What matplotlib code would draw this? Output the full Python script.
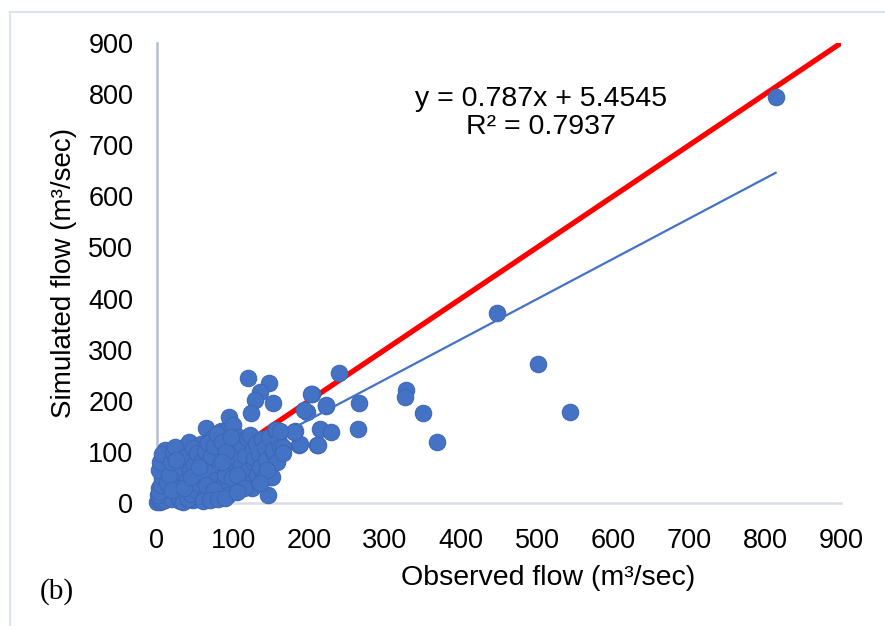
import numpy as np
import matplotlib.pyplot as plt
from matplotlib.lines import Line2D

plt.rcParams['font.family'] = ['Liberation Sans', 'DejaVu Sans']

# ----- data -----
# dense cluster of low flows
obs_low = [0, 2, 4, 5, 7, 8, 10, 12, 3, 6, 9, 11, 14, 10, 15, 18, 20, 22, 25, 26,
           28, 30, 32, 35, 36, 38, 40, 42, 44, 46, 48, 50, 52, 54, 56, 58, 60, 62, 64, 66,
           68, 70, 72, 74, 76, 78, 80, 82, 84, 86, 88, 90, 92, 94, 95, 96, 98, 100, 100, 102,
           104, 106, 108, 109, 110, 112, 114, 116, 118, 120, 122, 124, 125, 126, 127, 128, 130, 132, 134, 136,
           138, 140, 142, 144, 146, 148, 149, 151, 152, 153, 155, 157, 158, 160, 162, 145,
           1, 3, 5, 7, 2, 4, 6, 13, 16, 19, 21, 24, 27, 29, 31, 33, 34, 37, 39, 41,
           43, 45, 47, 49, 51, 53, 55, 57, 59, 61, 63, 65, 67, 69, 71, 73, 75, 77, 79, 81,
           83, 85, 87, 89, 91, 93, 97, 99,
           20, 35, 45, 25, 55, 65, 75, 85, 105, 115, 135, 60, 70, 80, 90, 105]
sim_low = [2, 5, 1, 10, 3, 18, 6, 25, 30, 45, 60, 75, 90, 104, 14, 35, 8, 50, 20, 68,
           95, 4, 40, 110, 58, 15, 80, 120, 30, 100, 6, 62, 45, 88, 12, 115, 30, 72, 146, 52,
           98, 20, 128, 40, 85, 62, 110, 30, 140, 50, 95, 70, 143, 40, 169, 118, 25, 153, 82, 60,
           100, 38, 130, 39, 75, 112, 50, 92, 128, 65, 133, 40, 29, 105, 78, 88, 118, 55, 95, 70,
           125, 48, 108, 85, 16, 130, 51, 51, 100, 104, 143, 143, 80, 120, 110, 65,
           15, 22, 35, 50, 65, 80, 95, 40, 55, 80, 100, 110, 30, 12, 85, 70, 2, 90, 45, 8,
           65, 18, 108, 75, 25, 98, 38, 55, 82, 5, 102, 15, 118, 58, 92, 8, 112, 45, 135, 18,
           75, 120, 35, 55, 100, 15, 130, 48,
           25, 30, 50, 85, 70, 35, 25, 80, 55, 30, 40, 3, 5, 8, 10, 22]

# higher flows
obs_high = [120, 148, 135, 129, 152, 124, 204, 240, 203, 197, 193, 222, 182, 187, 188, 266,
            265, 328, 326, 350, 368, 180, 211, 214, 229, 166, 166, 162, 223, 212,
            448, 501, 543, 814]
sim_high = [244, 235, 218, 202, 196, 177, 213, 255, 213, 179, 182, 190, 140, 113, 115, 196,
            145, 222, 207, 177, 119, 139, 114, 145, 138, 110, 97, 140, 192, 113,
            372, 272, 179, 794]

observed = obs_low + obs_high
simulated = sim_low + sim_high

slope = 0.787
intercept = 5.4545
r2 = 0.7937

# ----- figure -----
fig = plt.figure(figsize=(8.85, 6.26), dpi=100)
ax = fig.add_axes([0.1774, 0.1965, 0.7729, 0.7348])

ax.scatter(observed, simulated, s=140, color='#4472C4', edgecolors='#3e68b6',
           linewidths=0.8, zorder=3, clip_on=False)

# 1:1 line
ax.plot([0, 900], [0, 900], color='#FF0000', lw=3.8, zorder=2, solid_capstyle='butt')

# linear trend
xt = np.array([0, max(observed)])
ax.plot(xt, slope * xt + intercept, color='#4472C4', lw=1.6, zorder=4)

ax.set_xlim(0, 900)
ax.set_ylim(0, 900)
ax.set_xticks(range(0, 1000, 100))
ax.set_yticks(range(0, 1000, 100))
ax.tick_params(length=0, labelsize=19.5, colors='black')
ax.tick_params(axis='y', pad=17)
ax.tick_params(axis='x', pad=18)

for s in ['top', 'right']:
    ax.spines[s].set_visible(False)
ax.spines['left'].set_color('#b4bfcf')
ax.spines['left'].set_linewidth(1.8)
ax.spines['bottom'].set_color('#d9dde4')
ax.spines['bottom'].set_linewidth(1.8)
ax.spines['left'].set_zorder(1)
ax.spines['bottom'].set_zorder(1)

fig.text(548 / 885, 1 - 578 / 626, 'Observed flow (m³/sec)', ha='center', va='center',
         fontsize=20.5)
fig.text(64 / 885, 1 - 273 / 626, 'Simulated flow (m³/sec)', ha='center', va='center',
         rotation=90, fontsize=20)
fig.text(541 / 885, 1 - 113 / 626, f'y = {slope}x + {intercept}\nR² = {r2}',
         ha='center', va='center', fontsize=20.5, linespacing=1.1)
fig.text(57 / 885, 1 - 592 / 626, '(b)', ha='center', va='center', fontsize=21,
         family='Liberation Serif')

# light frame lines at top and left
fig.add_artist(Line2D([10 / 885, 10 / 885], [0, 1 - 12 / 626], color='#dde3ec', lw=1.5))
fig.add_artist(Line2D([10 / 885, 1], [1 - 12 / 626, 1 - 12 / 626], color='#dde3ec', lw=1.5))

fig.savefig('out.png', dpi=100)
